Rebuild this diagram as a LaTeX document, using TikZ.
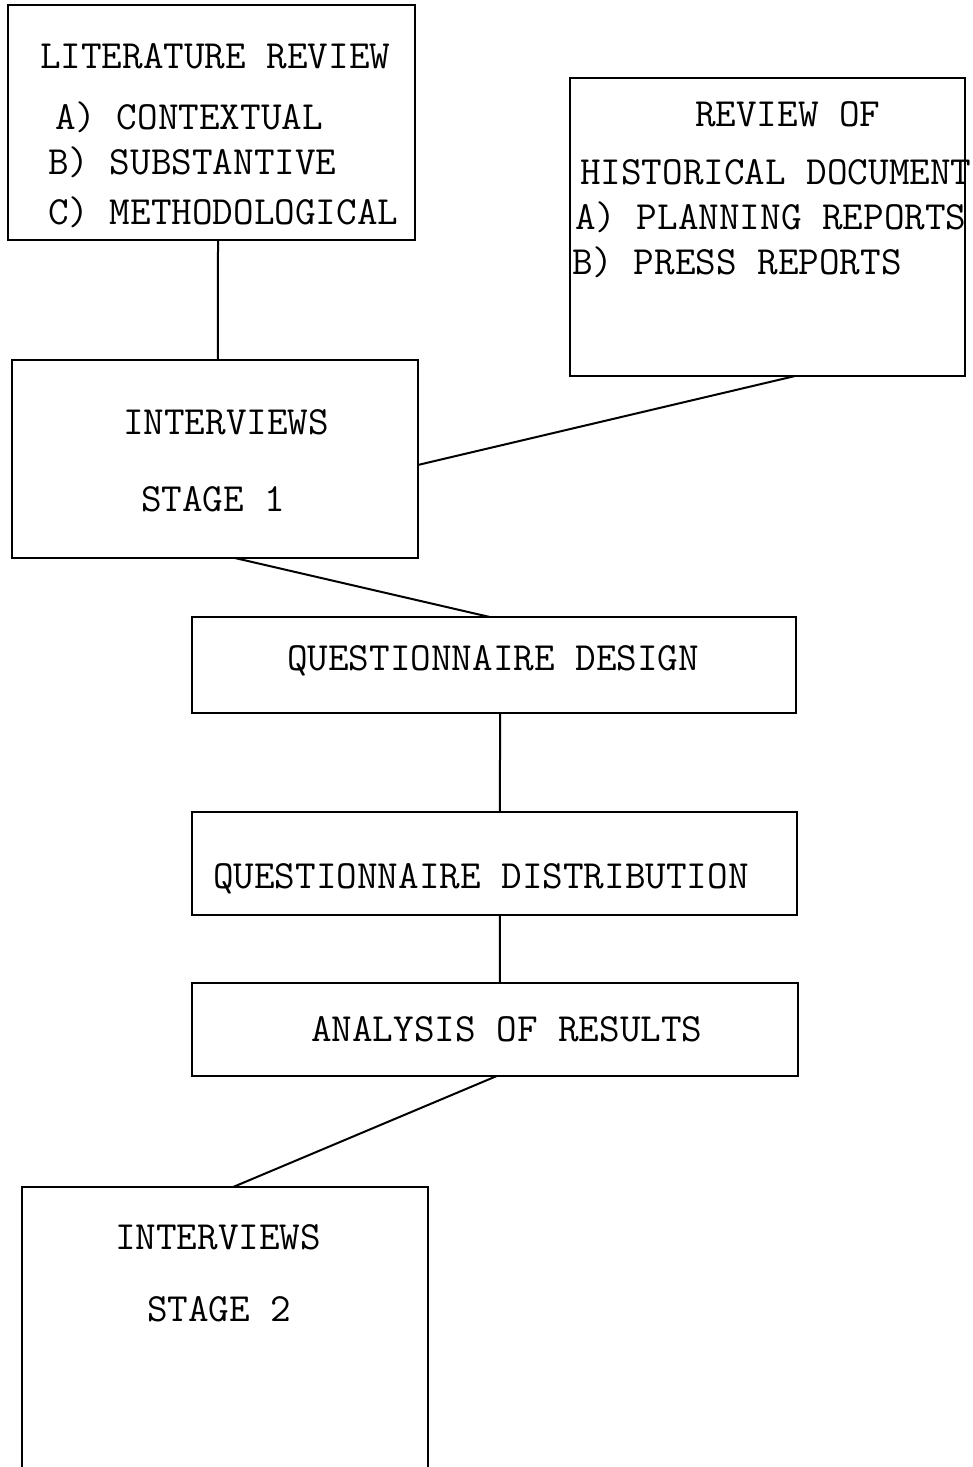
\documentclass[tikz,border=0pt]{standalone}
\usepackage{fontspec}
\usetikzlibrary{calc}
\begin{document}
\begin{tikzpicture}[x=0.5pt,y=-0.5pt,
  box/.style 2 args={draw, line width=1pt, inner sep=0pt, outer sep=0pt, rectangle,
    minimum width=#1*0.5pt, minimum height=#2*0.5pt},
  lbl/.style={anchor=base west, inner sep=0pt, outer sep=0pt, font=\ttfamily\fontsize{20}{23}\selectfont},
  link/.style={line width=1pt}]
\useasboundingbox (0,0) rectangle (973,1467);
\clip (0,0) rectangle (973,1467);
% boxes
\node[box={407}{235}] (lit) at (211.5,122.5) {};
\node[box={395}{298}] (hist) at (767.5,227) {};
\node[box={406}{198}] (int1) at (215,459) {};
\node[box={604}{96}] (qd) at (494,665) {};
\node[box={605}{103}] (qdist) at (494.5,863.5) {};
\node[box={606}{93}] (ana) at (495,1029.5) {};
\node[box={406}{320}] (int2) at (225,1347) {};
% texts
\node[lbl] (t1) at (40,68) {LITERATURE REVIEW};
\node[lbl] (t2) at (55,129) {A) CONTEXTUAL};
\node[lbl] (t3) at (48,174) {B) SUBSTANTIVE};
\node[lbl] (t4) at (48,224) {C) METHODOLOGICAL};
\node[lbl] (h1) at (695,126) {REVIEW OF};
\node[lbl] (h2) at (580,184) {HISTORICAL DOCUMENT};
\node[lbl] (h3) at (575,229) {A) PLANNING REPORTS};
\node[lbl] (h4) at (572,274) {B) PRESS REPORTS};
\node[lbl] (i1a) at (123,434) {INTERVIEWS};
\node[lbl] (i1b) at (141,511) {STAGE 1};
\node[lbl] (q1) at (287,670) {QUESTIONNAIRE DESIGN};
\node[lbl] (q2) at (213,888) {QUESTIONNAIRE DISTRIBUTION};
\node[lbl] (q3) at (311,1041) {ANALYSIS OF RESULTS};
\node[lbl] (i2a) at (115,1249) {INTERVIEWS};
\node[lbl] (i2b) at (147,1321) {STAGE 2};
% connectors
\draw[link] ($(lit.south west)!0.516!(lit.south east)$) -- ($(int1.north west)!0.507!(int1.north east)$);
\draw[link] ($(int1.north east)!0.53!(int1.south east)$) -- ($(hist.south west)!0.57!(hist.south east)$);
\draw[link] ($(int1.south west)!0.549!(int1.south east)$) -- ($(qd.north west)!0.493!(qd.north east)$);
\draw[link] ($(qd.south west)!0.51!(qd.south east)$) -- ($(qdist.north west)!0.509!(qdist.north east)$);
\draw[link] ($(qdist.south west)!0.509!(qdist.south east)$) -- ($(ana.north west)!0.508!(ana.north east)$);
\draw[link] ($(ana.south west)!0.503!(ana.south east)$) -- ($(int2.north west)!0.52!(int2.north east)$);
\end{tikzpicture}
\end{document}
